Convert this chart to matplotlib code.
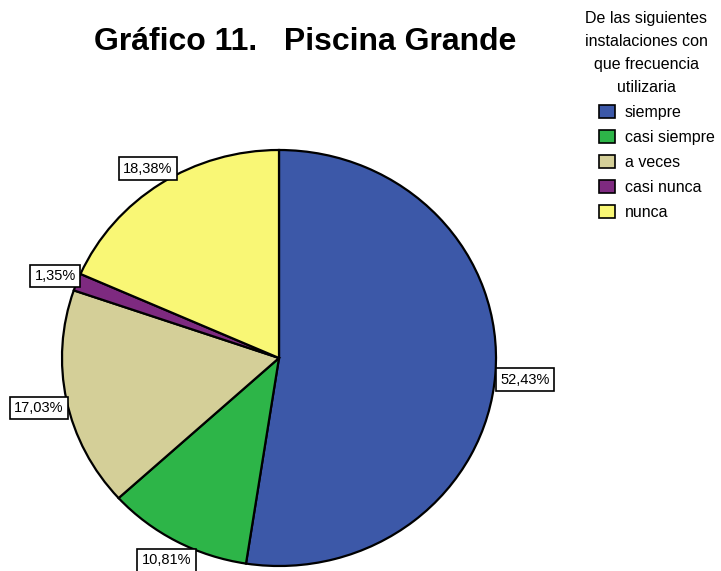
import numpy as np
import matplotlib.pyplot as plt
from matplotlib.patches import Patch

plt.rcParams['font.family'] = ['Liberation Sans', 'DejaVu Sans']

# frecuencia de uso de la piscina grande (%)
categorias = ['siempre', 'casi siempre', 'a veces', 'casi nunca', 'nunca']
porcentajes = [52.43, 10.81, 17.03, 1.35, 18.38]
colores = ['#3c58a8', '#2db548', '#d4cf98', '#7e2a80', '#f9f775']
etiquetas = ['52,43%', '10,81%', '17,03%', '1,35%', '18,38%']

titulo = 'Gráfico 11.   Piscina Grande'
titulo_leyenda = ['De las siguientes', 'instalaciones con', 'que frecuencia', 'utilizaria']

W, H = 721, 571
fig = plt.figure(figsize=(W / 100, H / 100), dpi=100)

# the pie is slightly squashed vertically, so the axes is not square
cx, cy, rx, ry = 279, 358, 217, 208
ax = fig.add_axes([(cx - rx) / W, (H - cy - ry) / H, 2 * rx / W, 2 * ry / H])

wedges, _ = ax.pie(porcentajes, colors=colores, startangle=90, counterclock=False,
                   radius=1, wedgeprops=dict(edgecolor='black', linewidth=1.6))
for w in wedges:
    w.set_clip_on(False)
ax.set_xlim(-1, 1)
ax.set_ylim(-1, 1)
ax.set_aspect('auto')
ax.axis('off')

# label boxes sit just outside the rim at each slice's mid-angle
desplaz = [(5, -6, 'left', 'center'), (-10, -12, 'center', 'top'),
           (-3, -8, 'right', 'center'), (-1, 6, 'right', 'center'),
           (12, 8, 'right', 'bottom')]
total = sum(porcentajes)
acum = 0
for p, txt, (dx, dy, ha, va) in zip(porcentajes, etiquetas, desplaz):
    mid = np.deg2rad(90 - (acum + p / 2) / total * 360)
    acum += p
    ax.annotate(txt, xy=(np.cos(mid), np.sin(mid)), xytext=(dx, dy),
                textcoords='offset pixels', ha=ha, va=va, fontsize=10.5,
                bbox=dict(boxstyle='square,pad=0.3', fc='white', ec='black', lw=1.2),
                annotation_clip=False)

fig.text(305 / W, 1 - 42 / H, titulo, ha='center', va='center',
         fontsize=23, fontweight='bold')

for i, linea in enumerate(titulo_leyenda):
    fig.text(646 / W, 1 - (18 + 23 * i) / H, linea, ha='center', va='center', fontsize=11.5)

handles = [Patch(facecolor=c, edgecolor='black', linewidth=1.2) for c in colores]
fig.legend(handles, categorias, loc='upper left', bbox_to_anchor=(599 / W, 1 - 105 / H),
           frameon=False, fontsize=11.5, handlelength=1.0, handleheight=0.9,
           handletextpad=0.6, labelspacing=0.62, borderpad=0, borderaxespad=0)

fig.savefig('out.png', dpi=100)
